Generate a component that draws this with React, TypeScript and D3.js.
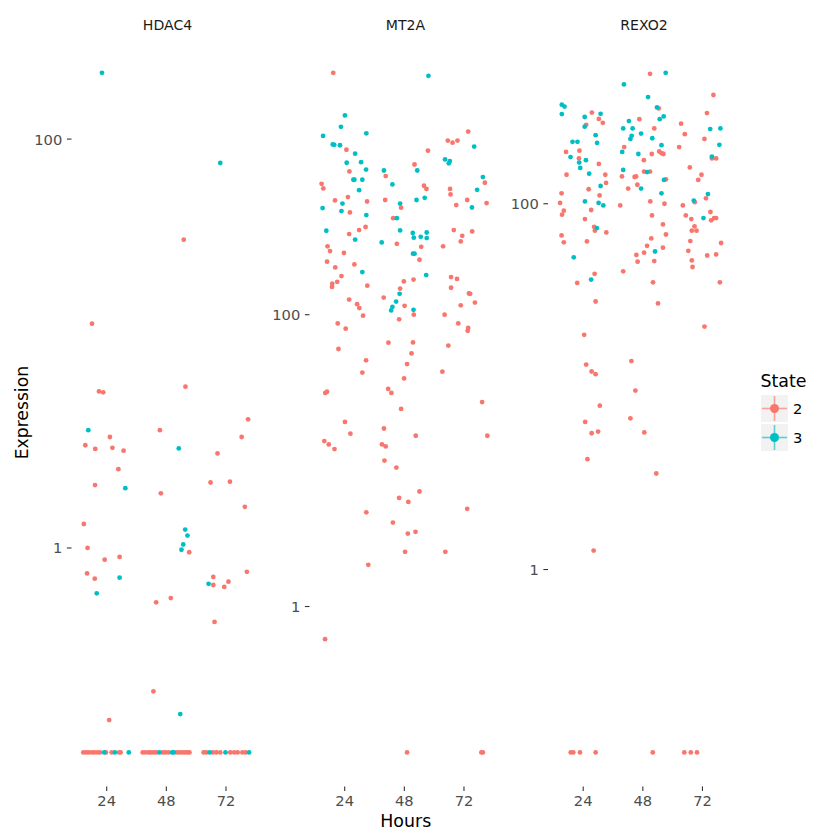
import * as d3 from 'd3';

// Expression by hours, one facet per gene, jittered points coloured by State
const genes = ['HDAC4', 'MT2A', 'REXO2'];
const hourTicks = [24, 48, 72];
const stateLabels = ['2', '3'];
const stateColors = ['#F8766D', '#00BFC4'];
const yTickValues = [0.01, 1, 100, 10000];

// [hours (jittered), expression]; 0.1 marks the floor row
const hdac4State2 = [
  [55.0, 32.2], [18.1, 12.5], [20.9, 5.83], [22.6, 5.77], [55.7, 6.15], [80.9, 4.26],
  [25.3, 3.49], [15.4, 3.18], [19.4, 3.05], [26.3, 3.09], [30.8, 2.99], [45.4, 3.77],
  [28.7, 2.43], [19.3, 2.03], [45.8, 1.85], [65.8, 2.09], [68.6, 2.9], [73.6, 2.11],
  [78.3, 3.49], [79.6, 1.59], [14.8, 1.31], [57.2, 0.953], [16.3, 1.0], [23.2, 0.877],
  [29.2, 0.904], [16.1, 0.751], [19.2, 0.708], [43.9, 0.542], [49.8, 0.569], [66.9, 0.721],
  [66.9, 0.659], [71.3, 0.645], [73.0, 0.684], [80.4, 0.764], [67.4, 0.435], [42.8, 0.199],
  [25.0, 0.144],
  [14.6, 0.1], [15.7, 0.1], [16.7, 0.1], [18.0, 0.1], [19.0, 0.1], [20.2, 0.1], [21.3, 0.1],
  [23.7, 0.1], [26.0, 0.1], [29.0, 0.1], [29.6, 0.1], [38.5, 0.1], [39.6, 0.1], [40.9, 0.1],
  [41.7, 0.1], [42.8, 0.1], [43.9, 0.1], [46.6, 0.1], [47.6, 0.1], [48.8, 0.1], [52.2, 0.1],
  [53.3, 0.1], [54.4, 0.1], [55.5, 0.1], [56.5, 0.1], [57.3, 0.1], [63.0, 0.1], [64.0, 0.1],
  [66.7, 0.1], [68.1, 0.1], [69.7, 0.1], [73.7, 0.1], [75.3, 0.1], [76.7, 0.1], [78.6, 0.1],
  [79.9, 0.1],
];
const hdac4State3 = [
  [22.1, 211], [69.7, 76.4], [16.6, 3.77], [53.0, 3.07], [31.5, 1.96], [55.6, 1.23],
  [56.5, 1.15], [54.8, 1.04], [54.1, 0.98], [29.2, 0.716], [20.0, 0.6], [65.0, 0.668],
  [53.6, 0.154],
  [23.0, 0.1], [27.3, 0.1], [32.9, 0.1], [45.2, 0.1], [50.3, 0.1], [51.0, 0.1], [65.4, 0.1],
  [71.8, 0.1], [81.3, 0.1],
];

const mt2aState2 = [
  [19.4, 4550], [73.7, 1800], [65.5, 1560], [67.4, 1510], [69.4, 1560], [24.7, 1350],
  [57.5, 1330], [25.9, 959], [52.1, 1070], [40.5, 891], [14.7, 789], [15.4, 733],
  [55.9, 765], [56.9, 728], [66.4, 728], [66.6, 667], [80.4, 802], [25.3, 640], [20.1, 607],
  [33.0, 597], [40.3, 611], [46.7, 541], [68.9, 564], [73.3, 611], [81.1, 582], [26.1, 502],
  [43.5, 459], [32.4, 399], [29.8, 380], [25.8, 357], [67.9, 380], [75.3, 372], [71.3, 347],
  [70.7, 318], [45.0, 306], [54.8, 292], [63.6, 294], [17.1, 294], [18.1, 273], [23.7, 265],
  [16.9, 231], [54.1, 238], [27.9, 221], [20.2, 211], [22.7, 184], [66.8, 181], [69.2, 176],
  [47.8, 169], [51.7, 174], [19.0, 163], [18.9, 155], [21.0, 168], [33.1, 158], [66.8, 153],
  [46.3, 151], [74.0, 140], [74.5, 139], [39.7, 131], [25.8, 127], [76.4, 121], [29.0, 118],
  [29.9, 111], [48.1, 115], [51.8, 100], [70.7, 116], [31.4, 98.4], [64.2, 100], [45.9, 92.9],
  [69.7, 87.1], [73.7, 81.2], [73.5, 77.6], [21.2, 87.1], [24.4, 80.2], [41.6, 64.3],
  [51.5, 64.6], [65.7, 61.4], [21.5, 58.2], [50.9, 54.3], [32.6, 48.7], [49.1, 45.9],
  [31.1, 40.1], [63.3, 40.7], [47.9, 36.6], [16.2, 29.1], [16.9, 29.7], [41.5, 31.0],
  [42.8, 29.1], [79.3, 25.2], [46.7, 22.6], [24.1, 18.4], [26.3, 15.3], [39.8, 16.6],
  [52.6, 14.8], [81.4, 14.8], [15.8, 13.6], [17.6, 12.9], [19.9, 12.0], [39.0, 12.9],
  [40.5, 12.5], [40.0, 10.0], [44.8, 8.96], [54.1, 6.14], [45.9, 5.55], [49.6, 5.21],
  [73.3, 4.67], [32.7, 4.42], [43.4, 3.76], [49.4, 3.16], [52.5, 3.25], [48.3, 2.37],
  [64.5, 2.37], [33.5, 1.93], [16.1, 0.597],
  [49.1, 0.1], [79.0, 0.1], [79.6, 0.1],
];
const mt2aState3 = [
  [57.7, 4340], [24.1, 2320], [22.5, 1940], [15.3, 1680], [32.7, 1750], [19.2, 1470],
  [19.8, 1460], [22.1, 1450], [76.1, 1420], [28.2, 1270], [24.8, 1100], [30.6, 1110],
  [32.6, 988], [53.2, 973], [64.4, 1160], [66.3, 1130], [65.9, 1090], [39.8, 973],
  [27.5, 841], [27.9, 841], [31.1, 841], [43.2, 781], [29.8, 714], [79.6, 877], [77.3, 718],
  [23.1, 578], [52.9, 611], [56.2, 632], [46.3, 578], [75.2, 543], [15.1, 538], [22.7, 513],
  [32.7, 482], [45.0, 459], [16.6, 376], [46.3, 378], [51.4, 363], [51.8, 337], [54.6, 342],
  [57.0, 366], [57.0, 335], [28.2, 327], [38.9, 313], [51.5, 262], [52.1, 262], [31.1, 196],
  [56.8, 187], [46.1, 139], [44.7, 123], [43.2, 113], [42.7, 107], [51.7, 108],
];

const rexo2State2 = [
  [50.9, 513], [76.4, 393], [27.5, 315], [30.3, 291], [31.9, 277], [25.2, 270], [54.4, 332],
  [46.6, 290], [52.6, 258], [63.4, 274], [64.9, 240], [73.8, 313], [72.8, 226], [62.6, 204],
  [40.5, 204], [17.1, 192], [22.5, 195], [51.6, 187], [54.6, 193], [55.5, 189], [56.3, 187],
  [22.3, 177], [48.4, 173], [30.3, 165], [75.8, 177], [77.5, 177], [48.5, 150], [50.9, 150],
  [66.9, 158], [71.6, 144], [70.3, 135], [17.3, 144], [32.9, 144], [33.2, 130], [39.6, 141],
  [44.7, 140], [45.3, 141], [45.8, 127], [42.1, 121], [57.3, 136], [26.2, 120], [15.3, 114],
  [30.6, 111], [73.4, 107], [68.9, 102], [14.7, 101], [51.0, 103], [56.7, 100], [38.9, 97.9],
  [64.1, 97.9], [27.2, 92.4], [16.2, 91.6], [15.5, 87.1], [51.7, 86.3], [65.3, 86.3],
  [75.2, 90.1], [67.5, 82.4], [75.5, 81.1], [76.7, 83.5], [77.5, 83.5], [24.7, 82.4],
  [56.1, 77.1], [68.8, 75.2], [28.4, 74.8], [28.7, 71.2], [67.7, 71.2], [69.6, 71.2],
  [33.3, 69.7], [57.3, 67.9], [15.3, 67.1], [16.2, 61.5], [25.5, 62.2], [51.4, 64.6],
  [49.7, 58.9], [67.1, 62.5], [79.5, 61.0], [56.1, 57.5], [48.5, 54.0], [45.4, 52.5],
  [66.3, 55.3], [73.9, 52.1], [77.5, 52.8], [45.9, 48.2], [52.6, 48.6], [67.7, 49.0],
  [68.0, 45.1], [40.1, 42.7], [28.6, 41.4], [21.6, 36.9], [52.1, 37.2], [79.0, 37.2],
  [29.0, 29.2], [54.1, 28.5], [72.8, 21.3], [24.4, 19.2], [43.4, 13.8], [25.2, 13.2],
  [27.4, 12.1], [29.0, 11.7], [45.0, 9.51], [30.7, 7.87], [43.0, 6.71], [24.8, 6.41],
  [27.4, 5.56], [30.0, 5.68], [48.6, 5.62], [25.7, 4.01], [53.4, 3.35], [28.2, 1.27],
  [19.0, 0.1], [20.0, 0.1], [22.7, 0.1], [29.0, 0.1], [52.0, 0.1], [64.7, 0.1], [67.3, 0.1],
  [69.8, 0.1],
];
const rexo2State3 = [
  [57.2, 520], [40.4, 449], [50.1, 383], [15.4, 348], [16.5, 340], [15.4, 309], [31.0, 310],
  [24.6, 298], [24.6, 264], [53.7, 336], [56.4, 300], [54.8, 290], [42.4, 283], [40.1, 258],
  [43.9, 258], [29.0, 237], [47.3, 242], [43.5, 235], [43.0, 226], [51.8, 228], [75.1, 256],
  [79.2, 258], [19.7, 218], [21.7, 218], [29.6, 215], [55.5, 209], [78.8, 210], [39.7, 192],
  [46.2, 187], [18.9, 180], [22.4, 168], [25.1, 173], [22.8, 157], [75.8, 181], [40.1, 153],
  [49.7, 149], [26.4, 146], [31.0, 125], [47.3, 121], [56.5, 135], [55.5, 114], [74.2, 113],
  [68.5, 104], [24.7, 103], [30.2, 101], [32.1, 97.9], [72.4, 83.5], [29.5, 73.6],
  [52.9, 54.8], [20.2, 50.9], [27.2, 38.5],
];

const panelData = [
  [hdac4State2, hdac4State3],
  [mt2aState2, mt2aState3],
  [rexo2State2, rexo2State3],
];

const panelLeft = [71.5, 309.5, 548];
const panelW = 192;
const panelTop = 38.8;
const panelBottom = 786.4;
const font = 'DejaVu Sans';

function Panel({ index }) {
  const left = panelLeft[index];
  const series = panelData[index];
  const logs = series.flat().map(d => Math.log10(d[1]));
  const [lo, hi] = d3.extent(logs);
  const pad = (hi - lo) * 0.05;
  const x = d3.scaleLinear().domain([9.84, 87.1]).range([0, panelW]);
  const y = d3.scaleLog()
    .domain([Math.pow(10, lo - pad), Math.pow(10, hi + pad)])
    .range([panelBottom, panelTop]);
  const [d0, d1] = y.domain();
  const yTicks = yTickValues.filter(v => v >= d0 && v <= d1);

  return (
    <g transform={`translate(${left},0)`}>
      <text x={panelW / 2} y={24.5} textAnchor="middle" dominantBaseline="central"
        fontSize={14.1} fill="#1A1A1A">{genes[index]}</text>
      {yTicks.map(v => (
        <g key={v} transform={`translate(0,${y(v)})`}>
          <line x1={-4.6} x2={0} stroke="#333333" strokeWidth={1.1} />
          <text x={-9.2} textAnchor="end" dominantBaseline="central" fontSize={14.7}
            fill="#4D4D4D">{String(v)}</text>
        </g>
      ))}
      {hourTicks.map(h => (
        <g key={h} transform={`translate(${x(h)},${panelBottom})`}>
          <line y1={0} y2={4.6} stroke="#333333" strokeWidth={1.1} />
          <text y={14.6} textAnchor="middle" dominantBaseline="central" fontSize={14.7}
            fill="#4D4D4D">{h}</text>
        </g>
      ))}
      {series.map((pts, s) => (
        <g key={s} fill={stateColors[s]}>
          {pts.map((d, i) => (
            <circle key={i} cx={x(d[0])} cy={y(d[1])} r={2.4} />
          ))}
        </g>
      ))}
    </g>
  );
}

function Legend() {
  const keyX = 761;
  const keyY = [395, 424];
  const size = 27;
  return (
    <g>
      <text x={760.5} y={386.5} fontSize={17.4} fill="#000">State</text>
      {stateLabels.map((lab, i) => {
        const cx = keyX + size / 2;
        const cy = keyY[i] + size / 2;
        return (
          <g key={lab}>
            <rect x={keyX} y={keyY[i]} width={size} height={size} fill="#F2F2F2" />
            <line x1={keyX + 1} x2={keyX + size - 1} y1={cy} y2={cy}
              stroke={stateColors[i]} strokeOpacity={0.65} strokeWidth={1.6} />
            <line x1={cx} x2={cx} y1={keyY[i] + 1} y2={keyY[i] + size - 1}
              stroke={stateColors[i]} strokeOpacity={0.65} strokeWidth={1.6} />
            <circle cx={cx} cy={cy} r={4.5} fill={stateColors[i]} />
            <text x={793} y={cy} dominantBaseline="central" fontSize={14.7} fill="#000">{lab}</text>
          </g>
        );
      })}
    </g>
  );
}

export default function App() {
  const plotCenter = (panelLeft[0] + panelLeft[2] + panelW) / 2;
  return (
    <svg width={840} height={840} fontFamily={font}
      style={{ position: 'absolute', left: 0, top: 0, background: '#ffffff' }}>
      {genes.map((g, i) => <Panel key={g} index={i} />)}
      <text x={plotCenter} y={821} textAnchor="middle" dominantBaseline="central"
        fontSize={17.4} fill="#000">Hours</text>
      <text transform={`translate(28,${(panelTop + panelBottom) / 2}) rotate(-90)`}
        textAnchor="middle" fontSize={17.2} fill="#000">Expression</text>
      <Legend />
    </svg>
  );
}
